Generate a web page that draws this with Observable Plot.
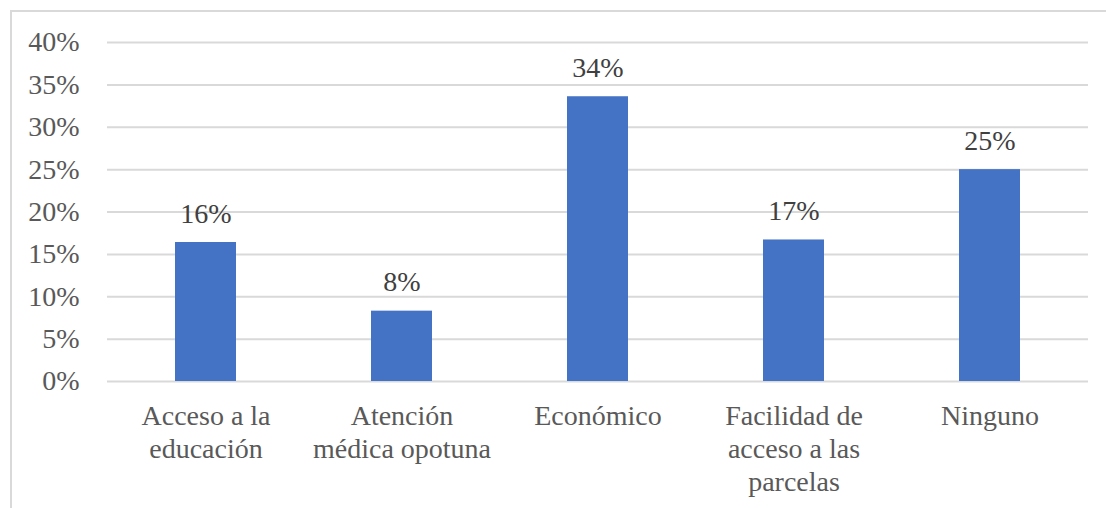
<!DOCTYPE html>
<html>
<head>
<meta charset="utf-8">
<script src="https://cdn.jsdelivr.net/npm/d3@7"></script>
<script src="https://cdn.jsdelivr.net/npm/@observablehq/plot@0.6"></script>
<style>
  html, body { margin: 0; padding: 0; background: #fff; }
  #wrap { position: relative; width: 1106px; height: 508px; overflow: hidden; }
  #border { position: absolute; left: 10px; top: 10px; width: 1200px; height: 600px; border: 2px solid #d9d9d9; box-sizing: border-box; }
  #chart { position: absolute; left: 0; top: 0; }
  #chart svg text { font-family: "Liberation Serif", Tinos, "Times New Roman", Times, "DejaVu Serif", serif !important; }
</style>
</head>
<body>
<div id="wrap"><div id="border"></div><div id="chart"></div></div>
<script>
const categories = ["Acceso a la\neducación", "Atención\nmédica opotuna", "Económico", "Facilidad de\nacceso a las\nparcelas", "Ninguno"];
const values = [0.164, 0.083, 0.336, 0.167, 0.25];
const yTicks = [0, 0.05, 0.10, 0.15, 0.20, 0.25, 0.30, 0.35, 0.40];

const data = categories.map((c, i) => ({category: c, value: values[i]}));
const font = "Liberation Serif, Times New Roman, serif";

const plot = Plot.plot({
  width: 1106,
  height: 508,
  marginLeft: 107,
  marginRight: 18,
  marginTop: 42,
  marginBottom: 127,
  style: {fontSize: "28px", background: "transparent"},
  x: {domain: categories, paddingInner: 0.69, paddingOuter: 0.345, axis: null},
  y: {domain: [0, 0.40], axis: null},
  marks: [
    Plot.gridY(yTicks, {stroke: "#d9d9d9", strokeOpacity: 1, strokeWidth: 2}),
    Plot.barY(data, {x: "category", y: "value", fill: "#4472c4"}),
    Plot.text(yTicks, {x: null, y: d => d, frameAnchor: "left", text: d => `${Math.round(d * 100)}%`, textAnchor: "end", dx: 79 - 107, fill: "#595959", fontSize: 28, fontFamily: font}),
    Plot.text(data, {x: "category", y: 0, text: "category", lineAnchor: "top", dy: 20, lineHeight: 1.18, fill: "#595959", fontSize: 28, fontFamily: font}),
    Plot.text(data, {x: "category", y: "value", text: d => `${Math.round(d.value * 100)}%`, lineAnchor: "bottom", dy: -20, fill: "#404040", fontSize: 28, fontFamily: font})
  ]
});
document.getElementById("chart").appendChild(plot);
</script>
</body>
</html>
